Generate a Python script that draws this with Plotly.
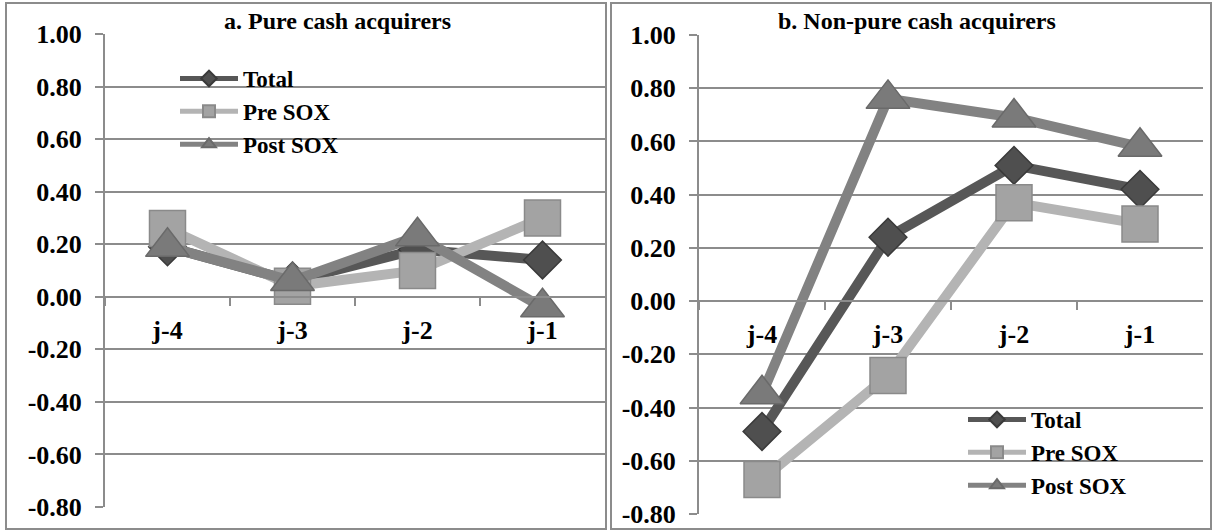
import plotly.graph_objects as go

categories = ["j-4", "j-3", "j-2", "j-1"]
series_names = ["Total", "Pre SOX", "Post SOX"]

a_total = [0.19, 0.06, 0.18, 0.14]
a_pre = [0.26, 0.04, 0.10, 0.30]
a_post = [0.19, 0.06, 0.23, -0.04]

b_total = [-0.49, 0.24, 0.51, 0.42]
b_pre = [-0.67, -0.28, 0.37, 0.29]
b_post = [-0.35, 0.76, 0.69, 0.58]

y_ticks = [1.0, 0.8, 0.6, 0.4, 0.2, 0.0, -0.2, -0.4, -0.6, -0.8]
y_tick_labels = ["%.2f" % v for v in y_ticks]

titles = ["a. Pure cash acquirers", "b. Non-pure cash acquirers"]

W, H = 1219, 531
FONT = "Liberation Serif"
GRID = "#8c8c8c"

line_colors = ["#575757", "#b4b4b4", "#828282"]
marker_colors = ["#4f4f4f", "#a3a3a3", "#7a7a7a"]
marker_edges = ["#3a3a3a", "#8a8a8a", "#6a6a6a"]
symbols = ["diamond", "square", "triangle-up"]
msizes = [29, 36, 38]


def px_x(p):
    return p / W


def px_y(p):
    return 1 - p / H


fig = go.Figure()

panels = [
    dict(data=[a_total, a_pre, a_post], xa="x", ya="y", legend="legend"),
    dict(data=[b_total, b_pre, b_post], xa="x2", ya="y2", legend="legend2"),
]

for p in panels:
    for i, vals in enumerate(p["data"]):
        fig.add_trace(go.Scatter(
            x=categories, y=vals, name=series_names[i],
            mode="lines+markers",
            line=dict(color=line_colors[i], width=10),
            marker=dict(symbol=symbols[i], size=msizes[i], color=marker_colors[i],
                        line=dict(color=marker_edges[i], width=1.5)),
            xaxis=p["xa"], yaxis=p["ya"], legend=p["legend"],
        ))

# geometry (pixels)
left_x = (105, 605)
right_x = (699, 1203)
left_y = (34, 507)
right_y = (35, 514)


def ydom(t):
    return [px_y(t[1]), px_y(t[0])]


def zero_pos(t):
    d = ydom(t)
    return d[0] + (0.8 / 1.8) * (d[1] - d[0])


tick_font = dict(family=FONT, size=26, color="black", weight="bold")

common_y = dict(
    range=[-0.8, 1.0], tickvals=y_ticks, ticktext=y_tick_labels,
    showgrid=True, gridcolor=GRID, gridwidth=2,
    showline=True, linecolor=GRID, linewidth=2,
    ticks="outside", ticklen=8, tickcolor=GRID, tickwidth=2,
    ticklabelstandoff=8, automargin=False,
    tickfont=tick_font,
    zeroline=False, fixedrange=True,
)
common_x = dict(
    type="category", range=[-0.5, 3.5],
    showgrid=False, showline=True, linecolor=GRID, linewidth=2,
    ticks="outside", ticklen=8, tickcolor=GRID, tickwidth=2,
    tickson="boundaries", ticklabelstandoff=10, automargin=False,
    tickfont=tick_font,
    anchor="free", fixedrange=True,
)

legend_font = dict(family=FONT, size=23, color="black", weight="bold")

fig.update_layout(
    width=W, height=H,
    margin=dict(l=0, r=0, t=0, b=0, autoexpand=False),
    paper_bgcolor="white", plot_bgcolor="white",
    xaxis=dict(common_x, domain=[px_x(left_x[0]), px_x(left_x[1])], position=zero_pos(left_y)),
    yaxis=dict(common_y, domain=ydom(left_y), anchor="x"),
    xaxis2=dict(common_x, domain=[px_x(right_x[0]), px_x(right_x[1])], position=zero_pos(right_y)),
    yaxis2=dict(common_y, domain=ydom(right_y), anchor="x2"),
    legend=dict(x=px_x(175), y=px_y(57), xanchor="left", yanchor="top",
                bgcolor="rgba(0,0,0,0)", itemwidth=58, itemsizing="constant",
                font=legend_font, tracegroupgap=0),
    legend2=dict(x=px_x(963), y=px_y(398), xanchor="left", yanchor="top",
                 bgcolor="rgba(0,0,0,0)", itemwidth=58, itemsizing="constant",
                 font=legend_font, tracegroupgap=0),
    showlegend=True,
)

# panel borders
for (x0, x1) in [(6, 606), (611, 1211)]:
    fig.add_shape(type="rect", xref="paper", yref="paper",
                  x0=px_x(x0), x1=px_x(x1), y0=px_y(529), y1=px_y(3),
                  line=dict(color=GRID, width=2), layer="below")

# panel titles
for t, cx in zip(titles, [337, 917]):
    fig.add_annotation(text=t, xref="paper", yref="paper",
                       x=px_x(cx), y=px_y(21), xanchor="center", yanchor="middle",
                       showarrow=False,
                       font=dict(family=FONT, size=24, color="black", weight="bold"))

fig.write_html(
    "out.html",
    config={"displayModeBar": False},
    post_script="document.body.style.margin='0px';document.body.style.overflow='hidden';",
)
